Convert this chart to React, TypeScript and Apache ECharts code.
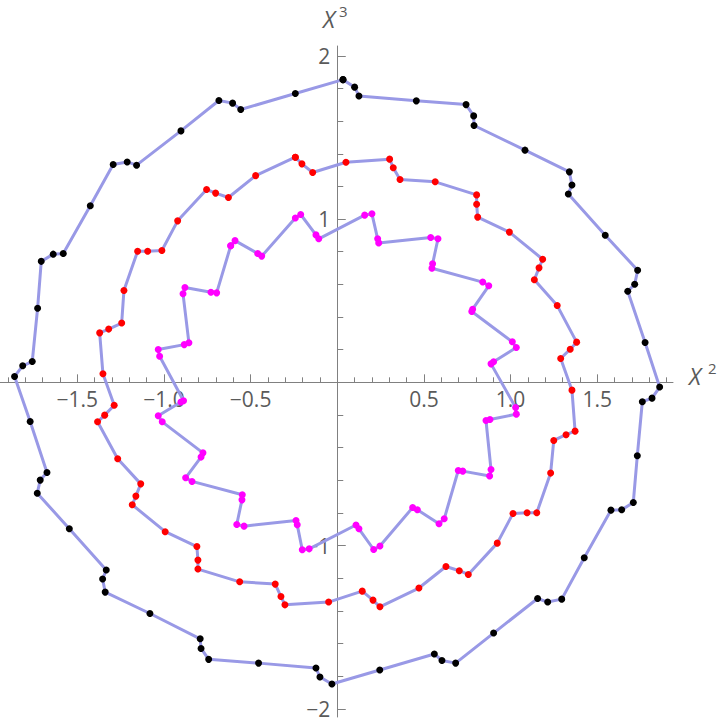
import React, { useEffect, useRef } from "react";
import * as echarts from "echarts";

// Outer curve (black points)
const blackPoints: number[][] = [
  [0.033, 1.854], [0.100, 1.808], [0.125, 1.754], [0.456, 1.724],
  [0.743, 1.701], [0.787, 1.632], [0.789, 1.573], [1.083, 1.422],
  [1.339, 1.289], [1.354, 1.209], [1.333, 1.154], [1.546, 0.901],
  [1.733, 0.686], [1.716, 0.601], [1.676, 0.558], [1.776, 0.244],
  [1.860, -0.029], [1.816, -0.097], [1.760, -0.119], [1.731, -0.450],
  [1.708, -0.736], [1.641, -0.781], [1.579, -0.783], [1.425, -1.075],
  [1.295, -1.328], [1.214, -1.346], [1.156, -1.324], [0.902, -1.536],
  [0.683, -1.720], [0.604, -1.704], [0.560, -1.664], [0.245, -1.762],
  [-0.031, -1.848], [-0.100, -1.805], [-0.123, -1.750], [-0.454, -1.720],
  [-0.742, -1.697], [-0.786, -1.630], [-0.791, -1.571], [-1.081, -1.416],
  [-1.339, -1.285], [-1.354, -1.205], [-1.333, -1.150], [-1.546, -0.897],
  [-1.731, -0.679], [-1.714, -0.599], [-1.675, -0.552], [-1.772, -0.240],
  [-1.862, 0.036], [-1.815, 0.101], [-1.760, 0.127], [-1.729, 0.454],
  [-1.708, 0.741], [-1.639, 0.785], [-1.581, 0.789], [-1.425, 1.081],
  [-1.293, 1.334], [-1.212, 1.350], [-1.158, 1.330], [-0.902, 1.540],
  [-0.683, 1.726], [-0.604, 1.710], [-0.557, 1.671], [-0.242, 1.769],
];

// Middle curve (red points)
const redPoints: number[][] = [
  [-0.242, 1.379], [-0.204, 1.338], [-0.142, 1.285], [0.050, 1.348],
  [0.302, 1.367], [0.323, 1.314], [0.362, 1.242], [0.565, 1.228],
  [0.804, 1.148], [0.804, 1.091], [0.810, 1.012], [0.993, 0.920],
  [1.185, 0.754], [1.164, 0.701], [1.137, 0.628], [1.269, 0.470],
  [1.381, 0.246], [1.344, 0.203], [1.289, 0.146], [1.354, -0.048],
  [1.372, -0.299], [1.320, -0.321], [1.249, -0.356], [1.231, -0.556],
  [1.151, -0.799], [1.095, -0.799], [1.014, -0.803], [0.923, -0.985],
  [0.756, -1.177], [0.704, -1.154], [0.627, -1.128], [0.471, -1.260],
  [0.246, -1.375], [0.206, -1.334], [0.144, -1.279], [-0.050, -1.346],
  [-0.302, -1.363], [-0.325, -1.312], [-0.358, -1.236], [-0.563, -1.222],
  [-0.804, -1.144], [-0.804, -1.089], [-0.810, -1.006], [-0.993, -0.915],
  [-1.183, -0.750], [-1.162, -0.697], [-1.134, -0.622], [-1.267, -0.468],
  [-1.383, -0.242], [-1.342, -0.201], [-1.287, -0.140], [-1.352, 0.052],
  [-1.371, 0.303], [-1.319, 0.326], [-1.244, 0.363], [-1.231, 0.562],
  [-1.152, 0.803], [-1.094, 0.803], [-1.012, 0.807], [-0.921, 0.989],
  [-0.754, 1.181], [-0.702, 1.159], [-0.628, 1.132], [-0.471, 1.266],
];

// Inner curve (magenta points)
const magentaPoints: number[][] = [
  [-0.615, 0.836], [-0.590, 0.868], [-0.459, 0.789], [-0.436, 0.773],
  [-0.242, 1.007], [-0.211, 1.028], [-0.123, 0.903], [-0.107, 0.879],
  [0.158, 1.024], [0.200, 1.032], [0.233, 0.879], [0.239, 0.854],
  [0.539, 0.887], [0.581, 0.879], [0.550, 0.726], [0.546, 0.699],
  [0.839, 0.614], [0.874, 0.591], [0.781, 0.448], [0.776, 0.434],
  [1.010, 0.248], [1.033, 0.213], [0.902, 0.126], [0.887, 0.113],
  [1.029, -0.154], [1.033, -0.195], [0.881, -0.228], [0.858, -0.234],
  [0.887, -0.534], [0.879, -0.574], [0.724, -0.544], [0.698, -0.540],
  [0.617, -0.836], [0.587, -0.866], [0.462, -0.781], [0.435, -0.767],
  [0.246, -1.003], [0.210, -1.024], [0.125, -0.897], [0.108, -0.874],
  [-0.162, -1.020], [-0.202, -1.026], [-0.231, -0.873], [-0.238, -0.846],
  [-0.538, -0.881], [-0.580, -0.871], [-0.550, -0.720], [-0.548, -0.689],
  [-0.838, -0.607], [-0.875, -0.585], [-0.786, -0.458], [-0.775, -0.432],
  [-1.010, -0.242], [-1.033, -0.205], [-0.902, -0.121], [-0.887, -0.113],
  [-1.025, 0.160], [-1.033, 0.201], [-0.883, 0.231], [-0.856, 0.242],
  [-0.890, 0.542], [-0.879, 0.581], [-0.729, 0.552], [-0.696, 0.548],
];

const xMajorTicks = [-1.5, -1.0, -0.5, 0.5, 1.0, 1.5];
const xMinorTicks = [
  -1.9, -1.8, -1.7, -1.6, -1.5, -1.4, -1.3, -1.2, -1.1, -1.0,
  -0.9, -0.8, -0.7, -0.6, -0.5, -0.4, -0.3, -0.2, -0.1,
  0.1, 0.2, 0.3, 0.4, 0.5, 0.6, 0.7, 0.8, 0.9, 1.0,
  1.1, 1.2, 1.3, 1.4, 1.5, 1.6, 1.7, 1.8, 1.9,
];
const yMajorTicks = [-2, -1, 1, 2];
const yMinorTicks = [
  -2.0, -1.8, -1.6, -1.4, -1.2, -1.0, -0.8, -0.6, -0.4, -0.2,
  0.2, 0.4, 0.6, 0.8, 1.0, 1.2, 1.4, 1.6, 1.8, 2.0,
];

const X_MIN = -1.946;
const X_MAX = 1.937;
const Y_MIN = -2.05;
const Y_MAX = 2.06;

const GRID_LEFT = 0;
const GRID_TOP = 46;
const GRID_W = 673;
const GRID_H = 671;

const AXIS_COLOR = "#808080";
const TEXT_COLOR = "#5a5a5a";
const CURVE_COLOR = "#9999e6";
const FONT = "'Open Sans', 'Noto Sans', sans-serif";

const closed = (pts: number[][]) => [...pts, pts[0]];

const fmtX = (v: number) =>
  (v < 0 ? "\u2212" : "") + Math.abs(v).toFixed(1);
const fmtY = (v: number) =>
  (v < 0 ? "\u2212" : "") + Math.abs(v).toFixed(0);

export default function App() {
  const ref = useRef<HTMLDivElement>(null);

  useEffect(() => {
    if (!ref.current) return;
    const chart = echarts.init(ref.current, undefined, { renderer: "svg" });

    const curve = (name: string, pts: number[][], color: string) => ({
      name,
      type: "line",
      xAxisIndex: 0,
      yAxisIndex: 0,
      data: closed(pts),
      symbol: "circle",
      symbolSize: 7,
      showSymbol: true,
      showAllSymbol: true,
      itemStyle: { color, borderWidth: 0 },
      lineStyle: { color: CURVE_COLOR, width: 3 },
      emphasis: { disabled: true },
      z: 3,
    });

    // Pixel distance of the zero lines from the grid edges, for the
    // overlay axes that carry the major ticks and the labels.
    const zeroFromBottom = (-Y_MIN / (Y_MAX - Y_MIN)) * GRID_H;
    const zeroFromLeft = (-X_MIN / (X_MAX - X_MIN)) * GRID_W;

    const label = (values: number[], fmt: (v: number) => string, margin: number) => ({
      show: true,
      customValues: values,
      formatter: fmt,
      margin,
      fontSize: 21,
      lineHeight: 16,
      fontFamily: FONT,
      color: TEXT_COLOR,
    });

    const supText = (text: string, x: number, y: number, size: number, italic: boolean) => ({
      type: "text",
      x,
      y,
      style: {
        text,
        font: `${italic ? "italic " : ""}${size}px ${FONT}`,
        fill: TEXT_COLOR,
        textAlign: "left",
        textVerticalAlign: "middle",
      },
    });

    chart.setOption({
      animation: false,
      backgroundColor: "#ffffff",
      grid: {
        left: GRID_LEFT,
        top: GRID_TOP,
        width: GRID_W,
        height: GRID_H,
        containLabel: false,
        outerBoundsMode: "none",
      },
      xAxis: [
        {
          type: "value",
          min: X_MIN,
          max: X_MAX,
          axisLine: {
            show: true,
            onZero: true,
            onZeroAxisIndex: 0,
            lineStyle: { color: AXIS_COLOR, width: 1 },
          },
          axisTick: {
            show: true,
            inside: true,
            length: 5,
            customValues: xMinorTicks,
            lineStyle: { color: AXIS_COLOR, width: 1 },
          },
          axisLabel: { show: false },
          splitLine: { show: false },
        },
        {
          type: "value",
          position: "bottom",
          offset: -zeroFromBottom,
          min: X_MIN,
          max: X_MAX,
          axisLine: { show: false, onZero: false },
          axisTick: {
            show: true,
            inside: true,
            length: 8,
            customValues: xMajorTicks,
            lineStyle: { color: AXIS_COLOR, width: 1 },
          },
          axisLabel: label(xMajorTicks, fmtX, 9),
          splitLine: { show: false },
        },
      ],
      yAxis: [
        {
          type: "value",
          min: Y_MIN,
          max: Y_MAX,
          axisLine: {
            show: true,
            onZero: true,
            onZeroAxisIndex: 0,
            lineStyle: { color: AXIS_COLOR, width: 1 },
          },
          axisTick: {
            show: true,
            inside: true,
            length: 6,
            customValues: yMinorTicks,
            lineStyle: { color: AXIS_COLOR, width: 1 },
          },
          axisLabel: { show: false },
          splitLine: { show: false },
        },
        {
          type: "value",
          position: "left",
          offset: -zeroFromLeft,
          min: Y_MIN,
          max: Y_MAX,
          axisLine: { show: false, onZero: false },
          axisTick: {
            show: true,
            inside: true,
            length: 8.5,
            customValues: yMajorTicks,
            lineStyle: { color: AXIS_COLOR, width: 1 },
          },
          axisLabel: label(yMajorTicks, fmtY, 7),
          splitLine: { show: false },
        },
      ],
      graphic: [
        supText("X", 689, 376, 23, true),
        supText("2", 708, 368, 15, false),
        supText("X", 323, 19, 23, true),
        supText("3", 339, 11, 15, false),
      ],
      series: [
        curve("outer", blackPoints, "#000000"),
        curve("middle", redPoints, "#ff0000"),
        curve("inner", magentaPoints, "#ff00ff"),
      ],
    });

    return () => chart.dispose();
  }, []);

  return (
    <div
      ref={ref}
      style={{ position: "absolute", left: 0, top: 0, width: 720, height: 721 }}
    />
  );
}
